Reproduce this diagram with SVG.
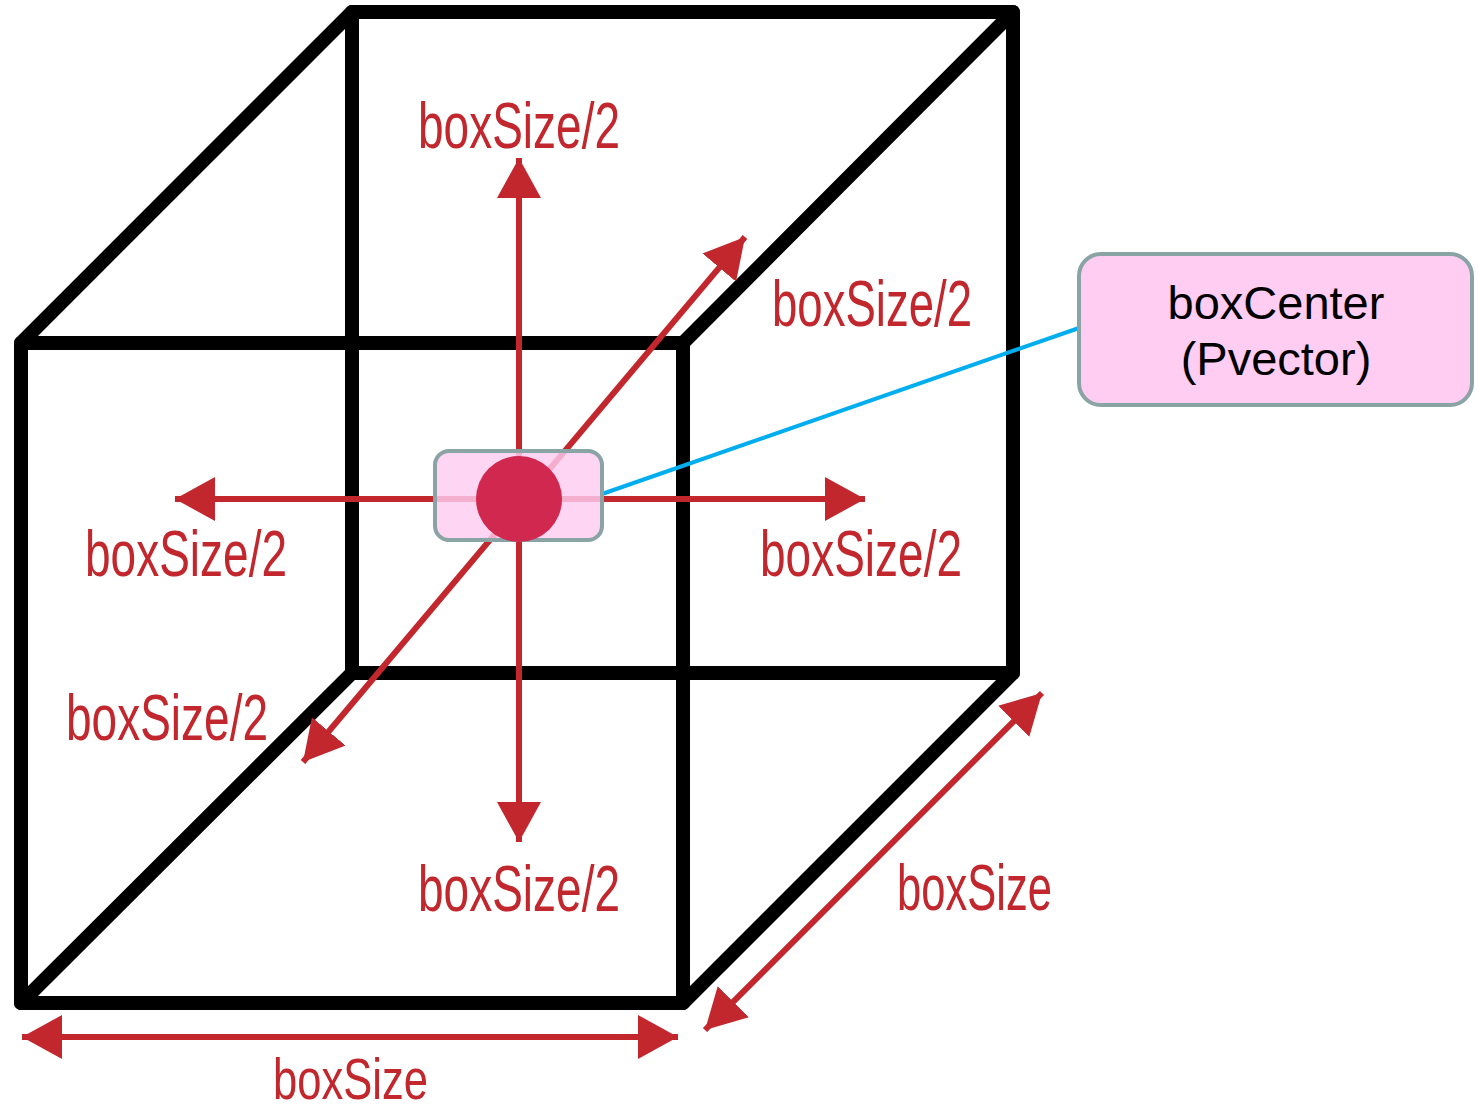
<svg xmlns="http://www.w3.org/2000/svg" width="1478" height="1111" viewBox="0 0 1478 1111">
<style>
.edge{stroke:#000;stroke-width:14;fill:none;stroke-linejoin:round;stroke-linecap:round}
.arr{stroke:#c1272d;stroke-width:6;fill:none;marker-start:url(#ah);marker-end:url(#ah)}
.lbl{font-family:"Liberation Sans",Arial,sans-serif;font-size:64px;fill:#c1272d}
.call{font-family:"Liberation Sans",Arial,sans-serif;font-size:47px;fill:#000;text-anchor:middle}
</style>
<defs>
<marker id="ah" markerUnits="userSpaceOnUse" markerWidth="42" markerHeight="44" refX="40" refY="22" orient="auto-start-reverse" viewBox="0 0 42 44">
<path d="M0,0 L40,22 L0,44 z" fill="#c1272d"/>
</marker>
</defs>
<g id="cube">
<rect class="edge" x="352" y="12" width="661" height="661"/>
<rect class="edge" x="21" y="343" width="662" height="660"/>
<line class="edge" x1="21" y1="343" x2="352" y2="12"/>
<line class="edge" x1="683" y1="343" x2="1013" y2="12"/>
<line class="edge" x1="21" y1="1003" x2="352" y2="673"/>
<line class="edge" x1="683" y1="1003" x2="1013" y2="673"/>
</g>
<g id="connectors">
<line class="arr" x1="175" y1="499" x2="865" y2="499"/>
<line class="arr" x1="519" y1="842" x2="519" y2="158"/>
<line class="arr" x1="303" y1="762" x2="745" y2="237"/>
<line class="arr" x1="705" y1="1030" x2="1042" y2="693"/>
<line class="arr" x1="22" y1="1037" x2="678" y2="1037"/>
<line x1="602" y1="494" x2="1079" y2="328" stroke="#00aeef" stroke-width="4"/>
</g>
<g id="center">
<rect x="435" y="451" width="167" height="89" rx="14" fill="#ffccf2" fill-opacity="0.82" stroke="#8aa3a5" stroke-width="4"/>
<circle cx="519" cy="499" r="43" fill="#d0284e"/>
</g>
<g id="labels">
<text class="lbl" x="418" y="148" textLength="202" lengthAdjust="spacingAndGlyphs">boxSize/2</text>
<text class="lbl" x="772" y="326" textLength="200" lengthAdjust="spacingAndGlyphs">boxSize/2</text>
<text class="lbl" x="85" y="576" textLength="202" lengthAdjust="spacingAndGlyphs">boxSize/2</text>
<text class="lbl" x="760" y="576" textLength="202" lengthAdjust="spacingAndGlyphs">boxSize/2</text>
<text class="lbl" x="66" y="740" textLength="202" lengthAdjust="spacingAndGlyphs">boxSize/2</text>
<text class="lbl" x="418" y="911" textLength="202" lengthAdjust="spacingAndGlyphs">boxSize/2</text>
<text class="lbl" x="897" y="910" textLength="155" lengthAdjust="spacingAndGlyphs">boxSize</text>
<text class="lbl" x="273" y="1099" textLength="155" lengthAdjust="spacingAndGlyphs" style="font-size:58px">boxSize</text>
</g>
<g id="callout">
<rect x="1079" y="254" width="393" height="151" rx="22" fill="#ffccf2" stroke="#8aa3a5" stroke-width="4"/>
<text class="call" x="1276" y="319">boxCenter</text>
<text class="call" x="1276" y="375">(Pvector)</text>
</g>
</svg>
